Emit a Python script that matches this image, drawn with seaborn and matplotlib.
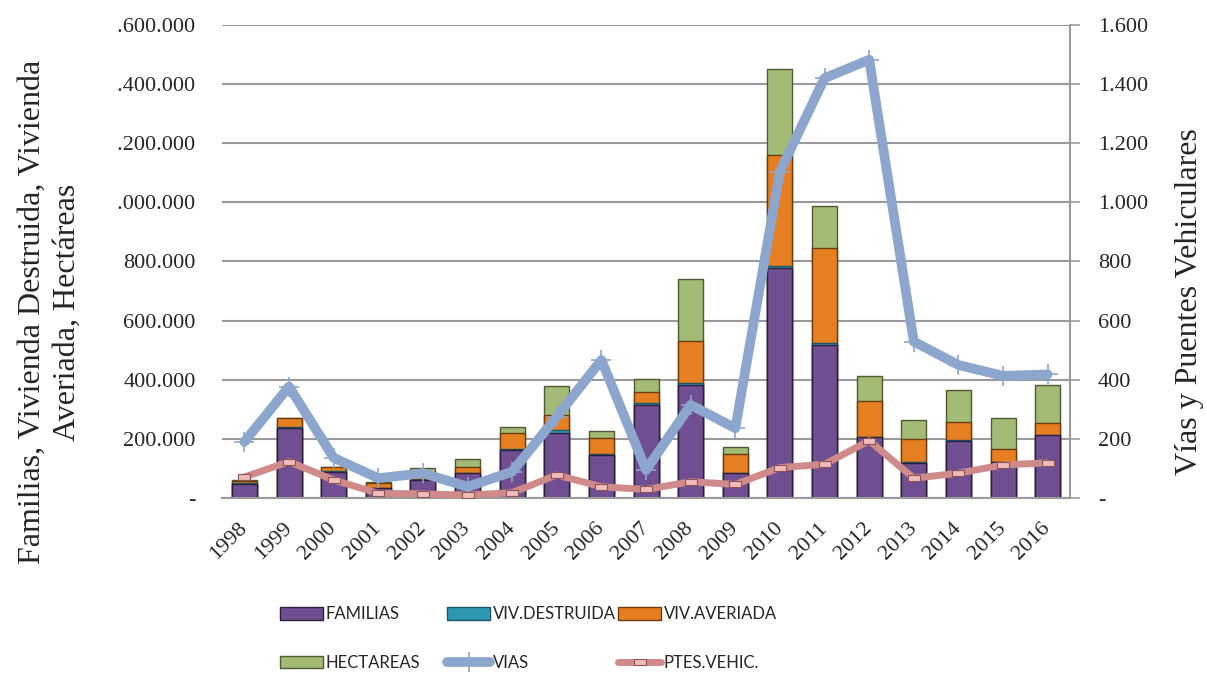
import numpy as np
import pandas as pd
import seaborn as sns
import matplotlib.pyplot as plt
from matplotlib.ticker import FuncFormatter
from matplotlib.transforms import Bbox
from matplotlib.patches import Patch
from matplotlib.lines import Line2D

# data
years = ['1998', '1999', '2000', '2001', '2002', '2003', '2004', '2005', '2006', '2007',
         '2008', '2009', '2010', '2011', '2012', '2013', '2014', '2015', '2016']
familias = [47000, 236000, 89000, 33000, 61000, 84000, 163000, 219000, 146000, 316000,
            382000, 84000, 777000, 518000, 205000, 120000, 194000, 121000, 213000]
viv_destruida = [3000, 3000, 2000, 1000, 1000, 2000, 2000, 10000, 3000, 4000,
                 6000, 2000, 6000, 5000, 3000, 2000, 1000, 1000, 1000]
viv_averiada = [8000, 31000, 13000, 18000, 3000, 18000, 54000, 52000, 55000, 40000,
                142000, 62000, 378000, 324000, 120000, 77000, 63000, 43000, 39000]
hectareas = [2000, 1000, 1000, 3000, 35000, 27000, 22000, 98000, 23000, 42000,
             210000, 26000, 290000, 141000, 86000, 65000, 107000, 105000, 129000]
vias = [190, 377, 136, 67, 84, 38, 89, 275, 467, 95,
        315, 236, 1104, 1420, 1482, 529, 450, 413, 418]
ptes_vehic = [71, 123, 61, 16, 14, 10, 18, 78, 38, 29,
              55, 46, 103, 114, 194, 67, 84, 112, 119]

df = pd.DataFrame({'year': years, 'fam': familias, 'vd': viv_destruida,
                   'va': viv_averiada, 'ha': hectareas})
df['c_fam'] = df['fam']
df['c_vd'] = df['c_fam'] + df['vd']
df['c_va'] = df['c_vd'] + df['va']
df['c_ha'] = df['c_va'] + df['ha']

c_fam, e_fam = '#6f4e92', '#2e1f3f'
c_vd, e_vd = '#2f98b3', '#1b5766'
c_va, e_va = '#e67f22', '#6e3c0c'
c_ha, e_ha = '#a3bb74', '#4d5a33'
c_vias = '#8ca6cd'
c_ptes = '#d08a8a'
grid_c = '#9a9a9a'

sns.set_theme(style='white')
plt.rcParams['font.family'] = ['Liberation Serif', 'DejaVu Serif']

fig, ax = plt.subplots(figsize=(12.07, 6.73), dpi=100)
fig.subplots_adjust(left=0.184, right=0.8865, bottom=0.26, top=0.963)

# stacked bars: draw cumulative totals from the top layer down
for col, fc, ec in [('c_ha', c_ha, e_ha), ('c_va', c_va, e_va),
                    ('c_vd', c_vd, e_vd), ('c_fam', c_fam, e_fam)]:
    sns.barplot(data=df, x='year', y=col, color=fc, saturation=1, width=0.56,
                edgecolor=ec, linewidth=1, errorbar=None, ax=ax)

fmt = FuncFormatter(lambda v, p: '-' if v == 0 else f'{int(v):,}'.replace(',', '.'))
ax.set_ylim(0, 1600000)
ax.set_yticks(np.arange(0, 1600001, 200000))
ax.yaxis.set_major_formatter(fmt)
ax.yaxis.grid(True, color=grid_c, linewidth=1.5)
ax.set_axisbelow(True)
ax.set_xlabel('')
ax.set_ylabel('')
ax.set_xticks(range(len(years)))
ax.set_xticklabels(years, rotation=45, ha='right', va='center', rotation_mode='anchor')
ax.tick_params(axis='y', length=0, pad=19, labelsize=16)
ax.tick_params(axis='x', length=0, pad=20, labelsize=16)
for s in ['left', 'top', 'right']:
    ax.spines[s].set_visible(False)
ax.spines['bottom'].set_color(grid_c)
ax.spines['bottom'].set_linewidth(1.5)

# lines on the secondary axis
ax2 = ax.twinx()
pos = np.arange(len(years))
rect = [(-1, -0.55), (1, -0.55), (1, 0.55), (-1, 0.55), (-1, -0.55)]
sns.lineplot(x=pos, y=vias, ax=ax2, color=c_vias, linewidth=7, marker='+',
             markersize=15, markeredgewidth=1.2, markeredgecolor=c_vias)
sns.lineplot(x=pos, y=ptes_vehic, ax=ax2, color=c_ptes, linewidth=5, marker=rect,
             markersize=8.5, markerfacecolor='#efbcbc', markeredgecolor='#8e5454',
             markeredgewidth=0.8)
ax2.set_ylim(0, 1600)
ax2.set_yticks(np.arange(0, 1601, 200))
ax2.yaxis.set_major_formatter(fmt)
ax2.tick_params(axis='y', right=True, direction='out', length=7, width=1.2,
                color=grid_c, pad=13, labelsize=16)
for s in ['left', 'top', 'bottom']:
    ax2.spines[s].set_visible(False)
ax2.spines['right'].set_color(grid_c)
ax2.spines['right'].set_linewidth(1.5)
ax2.set_ylabel('')
ax.set_xlim(-0.5, len(years) - 0.5)

fig.text(50 / 1207, 1 - 312 / 673,
         'Familias, Vivienda Destruida, Vivienda\nAveriada, Hectáreas',
         rotation=90, ha='center', va='center', fontsize=23, linespacing=1.25)
fig.text(1190 / 1207, 1 - 302 / 673, 'Vías y Puentes Vehiculares',
         rotation=90, ha='center', va='center', fontsize=23)

# legend, three columns placed like the reference
lfont = {'family': ['Lato', 'DejaVu Sans'], 'size': 12}
h_fam = Patch(facecolor=c_fam, edgecolor=e_fam)
h_vd = Patch(facecolor=c_vd, edgecolor=e_vd)
h_va = Patch(facecolor=c_va, edgecolor=e_va)
h_ha = Patch(facecolor=c_ha, edgecolor=e_ha)
h_vias = Line2D([], [], color=c_vias, linewidth=7, marker='+', markersize=15,
                markeredgewidth=1.2)
h_ptes = Line2D([], [], color=c_ptes, linewidth=5, marker=rect, markersize=8.5,
                markerfacecolor='#efbcbc', markeredgecolor='#8e5454', markeredgewidth=0.8)
columns = [([h_fam, h_ha], ['FAMILIAS', 'HECTAREAS'], 280),
           ([h_vd, h_vias], ['VIV.DESTRUIDA', 'VIAS'], 447),
           ([h_va, h_ptes], ['VIV.AVERIADA', 'PTES.VEHIC.'], 618)]
for hs, ls, x0 in columns:
    fig.legend(hs, ls, loc='upper left', bbox_to_anchor=(x0 / 1207, 1 - 606 / 673),
               frameon=False, prop=lfont, handlelength=2.6, handleheight=0.8,
               handletextpad=0.15, labelspacing=1.97, borderpad=0, borderaxespad=0)

# the reference cuts the leading "1" of the long left labels at the image edge
fig.canvas.draw()
rend = fig.canvas.get_renderer()
ylabs = ax.get_yticklabels()
long_lab = [t for t in ylabs if len(t.get_text()) == 9][0]
bb = long_lab.get_window_extent(rend)
tmp = fig.text(0, 0, long_lab.get_text()[1:], fontproperties=long_lab.get_fontproperties())
w_rest = tmp.get_window_extent(rend).width
tmp.remove()
clip = Bbox.from_extents(bb.x1 - w_rest, 0, 5000, 5000)
for t in ylabs:
    t.set_clip_box(clip)
    t.set_clip_on(True)

fig.savefig('out.png', dpi=100, facecolor='white')
